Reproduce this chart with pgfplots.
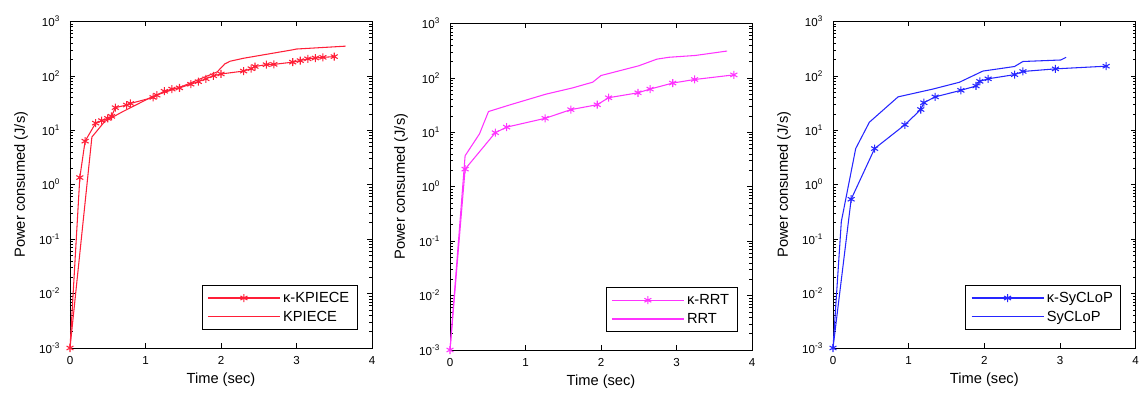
\documentclass[border=0pt]{standalone}
\usepackage{fontspec}
\setmainfont{Liberation Sans}
\usepackage{pgfplots}
\pgfplotsset{compat=1.18}
\definecolor{cred}{rgb}{1,0.12,0.22}
\definecolor{cmag}{rgb}{1,0.2,1}
\definecolor{cblue}{rgb}{0.15,0.15,1}
\pgfkeys{/pgf/number format/assume math mode=true}
\pgfplotsset{
  legend image code/.code={\draw[mark repeat=2,mark phase=2,#1] plot coordinates {(0pt,0pt) (27pt,0pt) (54pt,0pt)};},
  scale only axis,
  height=245pt,
  xmin=0, xmax=4, ymin=1e-3, ymax=1e3,
  xtick={0,1,2,3,4},
  tick align=inside, tick pos=both,
  major tick length=3.8pt, minor tick length=2.2pt,
  tick style={black, line width=0.4pt},
  axis line style={line width=0.6pt},
  tick label style={font=\fontsize{8.7}{9}\selectfont},
  xticklabel style={yshift=-3pt},
  yticklabel style={xshift=-4pt},
  label style={font=\fontsize{11}{12}\selectfont},
  xlabel style={at={(axis description cs:0.5,-0.098)}, anchor=center},
  ylabel style={at={(axis description cs:-0.162,0.5)}, anchor=center},
  legend style={at={(0.952,0.055)}, anchor=south east, draw=black, line width=0.5pt, fill=white,
      font=\fontsize{11}{12}\selectfont, inner xsep=4pt, inner ysep=3pt, row sep=1pt},
  legend cell align=left,
}
\begin{document}
\begin{tikzpicture}
\path[use as bounding box] (0,0) rectangle (855pt,295.5pt);
% Panel 1
\begin{semilogyaxis}[width=226.5pt, at={(52.5pt,34.5pt)}, anchor=south west, clip=false,
  xlabel={Time (sec)}, ylabel={Power consumed (J/s)},
  ytick={1e-3,1e-2,1e-1,1,10,100,1000},
  yticklabels={10\textsuperscript{-3},10\textsuperscript{-2},10\textsuperscript{-1},10\textsuperscript{0},10\textsuperscript{1},10\textsuperscript{2},10\textsuperscript{3}},
  minor ytick={2e-3,3e-3,4e-3,5e-3,6e-3,7e-3,8e-3,9e-3,2e-2,3e-2,4e-2,5e-2,6e-2,7e-2,8e-2,9e-2,0.2,0.3,0.4,0.5,0.6,0.7,0.8,0.9,2,3,4,5,6,7,8,9,20,30,40,50,60,70,80,90,200,300,400,500,600,700,800,900}]
\addplot[cred, line width=0.8pt, mark=asterisk, mark size=3pt] coordinates {
(0,0.001) (0.13,1.35) (0.2,6.3) (0.34,13.5) (0.42,15) (0.5,16.5) (0.55,18) (0.6,26) (0.75,29) (0.8,31)
(1.1,40) (1.15,44) (1.25,52) (1.35,57) (1.45,60) (1.6,70) (1.7,78) (1.8,88) (1.9,100) (2.0,108)
(2.3,122) (2.4,135) (2.45,148) (2.6,160) (2.7,162) (2.95,178) (3.05,190) (3.15,205) (3.25,212) (3.35,218) (3.5,225)
};
\addlegendentry{κ-KPIECE}
\addplot[cred, line width=0.8pt] coordinates {
(0,0.001) (0.29,7.5) (0.46,14.5) (0.7,22) (1.1,42) (1.5,65) (1.95,118) (2.05,165) (2.12,185) (2.3,210) (2.95,300) (3.0,310) (3.65,350)
};
\addlegendentry{KPIECE}
\end{semilogyaxis}
% Panel 2
\begin{semilogyaxis}[width=226.5pt, at={(337.5pt,33pt)}, anchor=south west, clip=false,
  xlabel={Time (sec)}, ylabel={Power consumed (J/s)},
  ytick={1e-3,1e-2,1e-1,1,10,100,1000},
  yticklabels={10\textsuperscript{-3},10\textsuperscript{-2},10\textsuperscript{-1},10\textsuperscript{0},10\textsuperscript{1},10\textsuperscript{2},10\textsuperscript{3}},
  minor ytick={2e-3,3e-3,4e-3,5e-3,6e-3,7e-3,8e-3,9e-3,2e-2,3e-2,4e-2,5e-2,6e-2,7e-2,8e-2,9e-2,0.2,0.3,0.4,0.5,0.6,0.7,0.8,0.9,2,3,4,5,6,7,8,9,20,30,40,50,60,70,80,90,200,300,400,500,600,700,800,900}]
\addplot[cmag, line width=0.8pt, mark=asterisk, mark size=3pt] coordinates {
(0,0.001) (0.2,2.1) (0.6,9.8) (0.75,12.4) (1.26,18) (1.6,26) (1.95,32) (2.1,43) (2.49,53) (2.65,62) (2.95,80) (3.24,93) (3.76,113)
};
\addlegendentry{κ-RRT}
\addplot[cmag, line width=0.8pt] coordinates {
(0,0.001) (0.2,3.7) (0.39,9.3) (0.51,24) (0.8,32) (1.27,50) (1.62,65) (1.89,83) (2.0,110) (2.5,166) (2.74,220) (2.9,238) (3.25,257) (3.67,310)
};
\addlegendentry{RRT}
\end{semilogyaxis}
% Panel 3
\begin{semilogyaxis}[width=227pt, at={(624.75pt,34.5pt)}, anchor=south west, clip=false,
  xlabel={Time (sec)}, ylabel={Power consumed (J/s)},
  ytick={1e-3,1e-2,1e-1,1,10,100,1000},
  yticklabels={10\textsuperscript{-3},10\textsuperscript{-2},10\textsuperscript{-1},10\textsuperscript{0},10\textsuperscript{1},10\textsuperscript{2},10\textsuperscript{3}},
  minor ytick={2e-3,3e-3,4e-3,5e-3,6e-3,7e-3,8e-3,9e-3,2e-2,3e-2,4e-2,5e-2,6e-2,7e-2,8e-2,9e-2,0.2,0.3,0.4,0.5,0.6,0.7,0.8,0.9,2,3,4,5,6,7,8,9,20,30,40,50,60,70,80,90,200,300,400,500,600,700,800,900}]
\addplot[cblue, line width=0.8pt, mark=asterisk, mark size=3pt] coordinates {
(0,0.001) (0.24,0.54) (0.55,4.6) (0.95,12.6) (1.16,24) (1.2,32) (1.35,41) (1.69,54) (1.89,65) (1.94,79) (2.05,88) (2.4,105) (2.51,120) (2.94,134) (3.61,150)
};
\addlegendentry{κ-SyCLoP}
\addplot[cblue, line width=0.8pt] coordinates {
(0,0.001) (0.11,0.21) (0.3,4.6) (0.48,14) (0.86,41) (1.32,57) (1.67,76) (1.85,100) (1.98,122) (2.4,148) (2.51,183) (3.01,195) (3.08,218)
};
\addlegendentry{SyCLoP}
\end{semilogyaxis}
\end{tikzpicture}
\end{document}
